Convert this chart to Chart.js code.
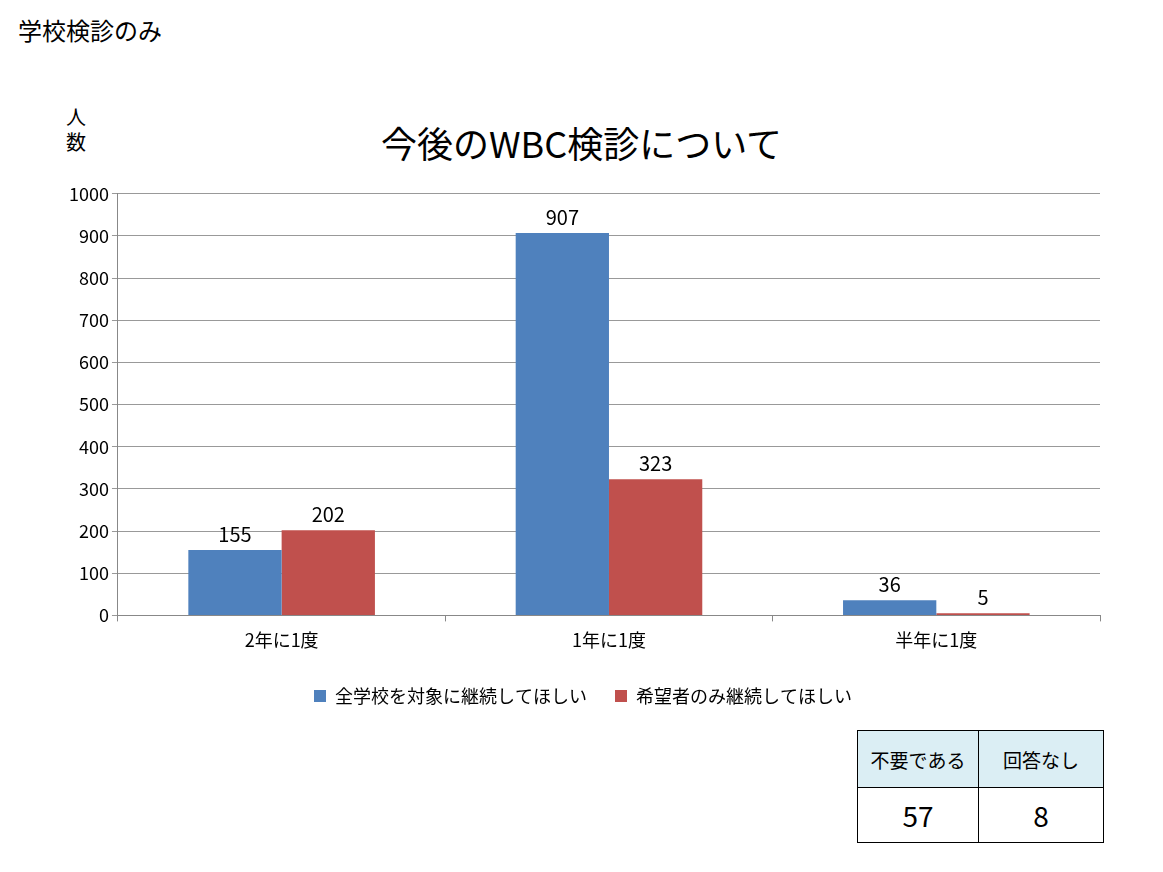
<!DOCTYPE html>
<html><head><meta charset="utf-8">
<script src="https://cdn.jsdelivr.net/npm/chart.js@4"></script>
<style>
body{margin:0;background:#fff;font-family:"Noto Sans CJK JP",sans-serif;}
#wrap{position:absolute;left:30px;top:180px;width:1090px;height:535px;}
.t{position:absolute;color:#000;}
table{position:absolute;left:857px;top:730px;border-collapse:collapse;}
td{border:1px solid #000;text-align:center;}
</style></head><body>
<div class="t" style="left:18px;top:12px;font-size:24px;">学校検診のみ</div>
<div class="t" style="left:66px;top:104px;font-size:20px;line-height:25px;">人<br>数</div>
<div class="t" style="left:0;width:1163px;top:116px;text-align:center;font-size:36px;">今後のWBC検診について</div>
<div id="wrap"><canvas id="c"></canvas></div>
<table>
<tr><td style="width:118px;height:54px;background:#dbeef4;font-size:19px;">不要である</td><td style="width:122px;background:#dbeef4;font-size:19px;">回答なし</td></tr>
<tr><td style="height:52px;font-size:28px;">57</td><td style="font-size:28px;">8</td></tr>
</table>
<script>
const categories = ['2年に1度', '1年に1度', '半年に1度'];
const allSchools = [155, 907, 36];
const applicants = [202, 323, 5];
const seriesNames = ['全学校を対象に継続してほしい', '希望者のみ継続してほしい'];

const labelPlugin = {
    id: 'labels',
    afterDatasetsDraw(chart) {
        const ctx = chart.ctx;
        ctx.save();
        ctx.font = '20px "Noto Sans CJK JP"';
        ctx.fillStyle = '#000';
        ctx.textAlign = 'center';
        ctx.textBaseline = 'bottom';
        chart.data.datasets.forEach((ds, i) => {
            chart.getDatasetMeta(i).data.forEach((bar, j) => {
                ctx.fillText(ds.data[j], bar.x, bar.y - 6);
            });
        });
        ctx.restore();
    }
};

new Chart(document.getElementById('c'), {
    type: 'bar',
    data: {
        labels: categories,
        datasets: [
            { label: seriesNames[0], data: allSchools, backgroundColor: '#4f81bd' },
            { label: seriesNames[1], data: applicants, backgroundColor: '#c0504d' }
        ]
    },
    options: {
        responsive: true,
        maintainAspectRatio: false,
        animation: false,
        categoryPercentage: 0.57,
        barPercentage: 1,
        layout: { padding: { top: 4, right: 20, left: 36 } },
        plugins: {
            legend: {
                position: 'bottom',
                labels: { boxWidth: 12, boxHeight: 12, font: { size: 18, family: 'Noto Sans CJK JP' }, color: '#000', padding: 28 }
            },
            tooltip: { enabled: false }
        },
        scales: {
            x: {
                grid: { offset: true, color: '#888', drawOnChartArea: false, tickLength: 6 },
                border: { color: '#888' },
                ticks: { font: { size: 18, family: 'Noto Sans CJK JP' }, color: '#000', padding: 8 }
            },
            y: {
                min: 0, max: 1000,
                ticks: { stepSize: 100, font: { size: 18, family: 'Noto Sans CJK JP' }, color: '#000', callback: v => String(v) },
                grid: { color: '#999', tickLength: 6 },
                border: { color: '#888' }
            }
        }
    },
    plugins: [labelPlugin]
});
</script>
</body></html>
